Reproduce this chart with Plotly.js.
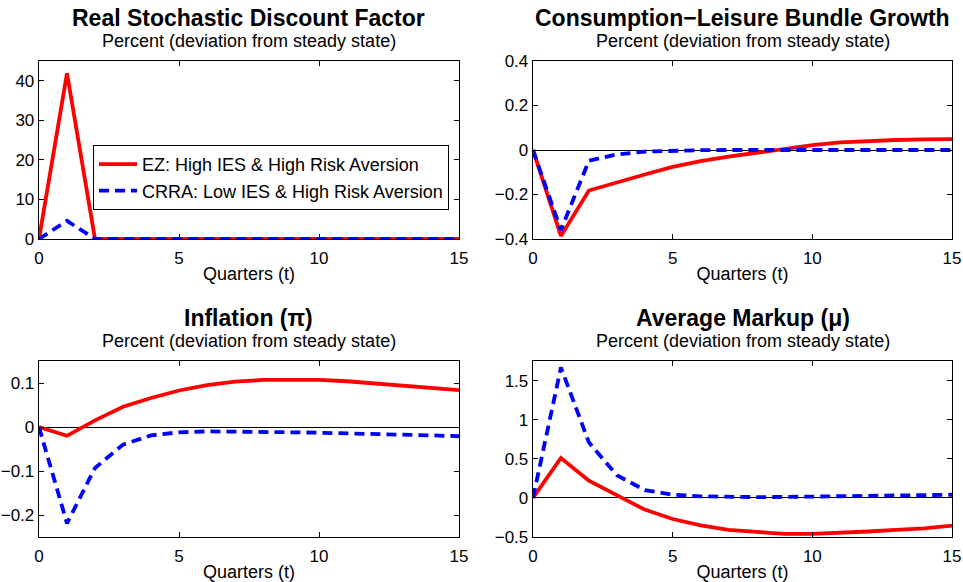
<!DOCTYPE html>
<html>
<head>
<meta charset="utf-8">
<script src="https://cdn.plot.ly/plotly-3.0.1.min.js"></script>
<style>html,body{margin:0;padding:0;background:#fff;}#chart{width:963px;height:582px;}</style>
</head>
<body>
<div id="chart"></div>
<script>
// Quarters
const quarters = [0,1,2,3,4,5,6,7,8,9,10,11,12,13,14,15];

// Series names
const nameEZ = "EZ: High IES & High Risk Aversion";
const nameCRRA = "CRRA: Low IES & High Risk Aversion";

// Real Stochastic Discount Factor
const sdfEZ   = [0, 41.9, 0, 0, 0, 0, 0, 0, 0, 0, 0, 0, 0, 0, 0, 0];
const sdfCRRA = [0, 4.6, 0, 0, 0, 0, 0, 0, 0, 0, 0, 0, 0, 0, 0, 0];

// Consumption-Leisure Bundle Growth
const clbEZ   = [0, -0.386, -0.182, -0.145, -0.11, -0.076, -0.05, -0.03, -0.012, 0.005, 0.022, 0.034, 0.041, 0.045, 0.048, 0.049];
const clbCRRA = [0, -0.36, -0.048, -0.02, -0.007, -0.003, -0.001, 0, 0, 0, 0, 0, 0, 0, 0, 0];

// Inflation
const infEZ   = [0, -0.02, 0.015, 0.046, 0.066, 0.083, 0.095, 0.103, 0.107, 0.108, 0.107, 0.104, 0.099, 0.094, 0.089, 0.084];
const infCRRA = [0, -0.219, -0.093, -0.04, -0.019, -0.012, -0.01, -0.01, -0.011, -0.012, -0.013, -0.014, -0.016, -0.018, -0.019, -0.021];

// Average Markup
const mkpEZ   = [0, 0.51, 0.22, 0.03, -0.15, -0.27, -0.35, -0.41, -0.44, -0.46, -0.46, -0.45, -0.43, -0.41, -0.39, -0.355];
const mkpCRRA = [0, 1.667, 0.71, 0.29, 0.1, 0.04, 0.02, 0.01, 0.01, 0.012, 0.015, 0.02, 0.025, 0.03, 0.035, 0.04];

// Titles
const titles = ["Real Stochastic Discount Factor", "Consumption\u2212Leisure Bundle Growth", "Inflation (\u03c0)", "Average Markup (\u03bc)"];
const subtitle = "Percent (deviation from steady state)";
const xTitle = "Quarters (t)";

const W = 963, H = 582;
const FONT = "Liberation Sans, Arial, Helvetica, sans-serif";
const red = "#ff0000", blue = "#0000ff";

const panels = [
  {ez: sdfEZ, crra: sdfCRRA, xa: "x", ya: "y", range: [0, 45], tickvals: [0,10,20,30,40], px: [39, 459], py: [61, 239]},
  {ez: clbEZ, crra: clbCRRA, xa: "x2", ya: "y2", range: [-0.4, 0.4], tickvals: [-0.4,-0.2,0,0.2,0.4], px: [533, 952], py: [61, 239]},
  {ez: infEZ, crra: infCRRA, xa: "x3", ya: "y3", range: [-0.25, 0.15], tickvals: [-0.2,-0.1,0,0.1], px: [39, 459], py: [361, 537]},
  {ez: mkpEZ, crra: mkpCRRA, xa: "x4", ya: "y4", range: [-0.5, 1.75], tickvals: [-0.5,0,0.5,1,1.5], px: [533, 952], py: [361, 537]}
];

const data = [];
const layout = {
  width: W, height: H,
  margin: {l: 0, r: 0, t: 0, b: 0},
  paper_bgcolor: "#fff", plot_bgcolor: "#fff",
  font: {family: FONT, size: 17, color: "#000"},
  showlegend: true,
  legend: {
    x: 93 / W, y: 1 - 145 / H, xanchor: "left", yanchor: "top",
    bgcolor: "#fff", bordercolor: "#000", borderwidth: 1, itemwidth: 38,
    font: {family: FONT, size: 18, color: "#000"}
  },
  annotations: []
};

panels.forEach((p, i) => {
  const k = i === 0 ? "" : String(i + 1);
  data.push({
    x: quarters, y: p.ez, xaxis: p.xa, yaxis: p.ya, type: "scatter", mode: "lines",
    name: nameEZ, showlegend: i === 0,
    line: {color: red, width: 3.8}
  });
  data.push({
    x: quarters, y: p.crra, xaxis: p.xa, yaxis: p.ya, type: "scatter", mode: "lines",
    name: nameCRRA, showlegend: i === 0,
    line: {color: blue, width: 3.8, dash: "10px,6px"}
  });
  const axCommon = {
    showline: true, linecolor: "#000", linewidth: 1.3, mirror: "ticks",
    ticks: "inside", ticklen: 5, tickcolor: "#000", tickwidth: 1,
    showgrid: false, tickfont: {family: FONT, size: 17, color: "#000"}, fixedrange: true
  };
  layout["xaxis" + k] = Object.assign({}, axCommon, {
    domain: [p.px[0] / W, p.px[1] / W], range: [0, 15], tickvals: [0, 5, 10, 15],
    anchor: "y" + k, zeroline: false, ticklabelstandoff: 3,
    title: {text: xTitle, font: {family: FONT, size: 18, color: "#000"}, standoff: 0}
  });
  layout["yaxis" + k] = Object.assign({}, axCommon, {
    domain: [1 - p.py[1] / H, 1 - p.py[0] / H], range: p.range, tickvals: p.tickvals,
    anchor: "x" + k, zeroline: i !== 0, zerolinecolor: "#000", zerolinewidth: 1
  });
  const cx = (p.px[0] + p.px[1]) / 2 / W;
  layout.annotations.push({
    text: "<b>" + titles[i] + "</b>", xref: "paper", yref: "paper",
    x: cx, y: 1 - (p.py[0] - 43) / H, xanchor: "center", yanchor: "middle",
    showarrow: false, font: {family: FONT, size: 23, color: "#000"}
  });
  layout.annotations.push({
    text: subtitle, xref: "paper", yref: "paper",
    x: cx, y: 1 - (p.py[0] - 20) / H, xanchor: "center", yanchor: "middle",
    showarrow: false, font: {family: FONT, size: 18, color: "#000"}
  });
});

Plotly.newPlot("chart", data, layout, {displayModeBar: false, staticPlot: true});
</script>
</body>
</html>
